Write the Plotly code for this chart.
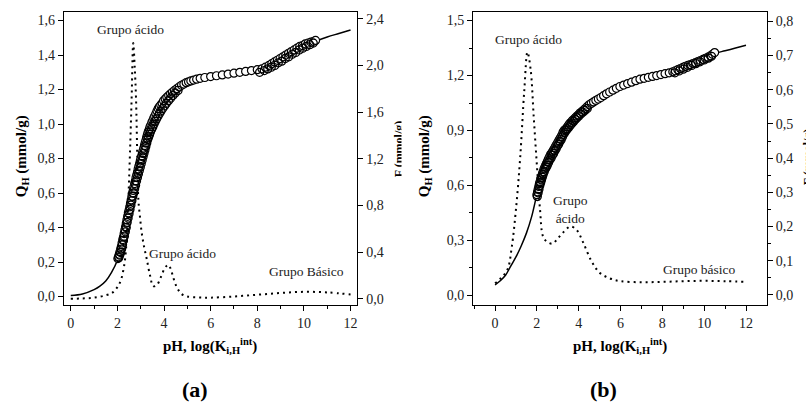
import plotly.graph_objects as go

# ---------------- Panel (a) ----------------
# experimental proton binding Q_H (mmol/g) vs pH, first titration run
ph_exp_a = [2.02, 2.05, 2.08, 2.11, 2.14, 2.17, 2.20, 2.23, 2.26, 2.29, 2.32, 2.35, 2.38, 2.41, 2.44,
            2.47, 2.50, 2.53, 2.56, 2.59, 2.62, 2.65, 2.68, 2.71, 2.74, 2.77, 2.80, 2.83, 2.86, 2.89,
            2.92, 2.95, 2.98, 3.01, 3.04, 3.07, 3.10, 3.13, 3.16, 3.19, 3.22, 3.25, 3.28, 3.31, 3.34,
            3.37, 3.40, 3.44, 3.48, 3.52, 3.56, 3.60, 3.65, 3.70, 3.75, 3.80, 3.86, 3.92, 3.98, 4.05,
            4.12, 4.20, 4.28, 4.36, 4.45, 4.55, 4.65, 4.75, 4.85, 4.95, 5.05, 5.15, 5.27, 5.40, 5.55,
            5.75, 6.00, 6.25, 6.50, 6.75, 7.00, 7.25, 7.50, 7.75, 8.00, 8.20, 8.35, 8.50, 8.62, 8.74,
            8.86, 8.98, 9.10, 9.22, 9.34, 9.46, 9.58, 9.70, 9.82, 9.94, 10.06, 10.18, 10.30, 10.42, 10.50]
q_exp_a = [0.22, 0.23, 0.245, 0.26, 0.275, 0.29, 0.31, 0.33, 0.345, 0.365, 0.385, 0.405, 0.425, 0.445, 0.465,
           0.485, 0.50, 0.52, 0.54, 0.56, 0.58, 0.60, 0.615, 0.635, 0.655, 0.67, 0.69, 0.705, 0.72, 0.74,
           0.755, 0.77, 0.785, 0.80, 0.815, 0.83, 0.845, 0.86, 0.875, 0.89, 0.905, 0.92, 0.935, 0.95, 0.96,
           0.97, 0.985, 0.995, 1.01, 1.02, 1.035, 1.045, 1.06, 1.075, 1.09, 1.10, 1.11, 1.12, 1.135, 1.145,
           1.155, 1.165, 1.175, 1.185, 1.195, 1.205, 1.215, 1.225, 1.232, 1.24, 1.245, 1.25, 1.255, 1.26, 1.265,
           1.27, 1.275, 1.28, 1.285, 1.29, 1.295, 1.30, 1.305, 1.31, 1.315, 1.32, 1.33, 1.34, 1.35, 1.36,
           1.37, 1.38, 1.39, 1.40, 1.41, 1.42, 1.43, 1.44, 1.45, 1.455, 1.465, 1.47, 1.475, 1.48, 1.485]

# second titration run
ph_run2_a = [2.06, 2.10, 2.14, 2.18, 2.22, 2.26, 2.30, 2.34, 2.38, 2.42, 2.46, 2.50, 2.54, 2.58, 2.62,
             2.66, 2.70, 2.74, 2.78, 2.82, 2.86, 2.90, 2.94, 2.98, 3.02, 3.06, 3.10, 3.14, 3.18, 3.22,
             3.26, 3.30, 3.34, 3.38, 3.42, 3.47, 3.52, 3.57, 3.62, 3.68, 3.74, 3.80, 3.87, 3.94, 4.02,
             4.10, 4.19, 4.28, 4.38, 4.48, 4.60,
             8.10, 8.30, 8.45, 8.60, 8.75, 8.90, 9.05, 9.20, 9.35, 9.50, 9.65, 9.80, 9.95, 10.10, 10.25, 10.40]
q_run2_a = [0.225, 0.24, 0.255, 0.275, 0.30, 0.325, 0.35, 0.375, 0.40, 0.43, 0.455, 0.48, 0.505, 0.53, 0.555,
            0.58, 0.60, 0.625, 0.645, 0.67, 0.69, 0.71, 0.73, 0.75, 0.77, 0.79, 0.81, 0.83, 0.85, 0.87,
            0.89, 0.91, 0.925, 0.94, 0.955, 0.97, 0.985, 1.00, 1.015, 1.03, 1.045, 1.06, 1.075, 1.09, 1.105,
            1.12, 1.135, 1.15, 1.165, 1.18, 1.195,
            1.30, 1.31, 1.32, 1.33, 1.34, 1.355, 1.365, 1.38, 1.39, 1.405, 1.415, 1.43, 1.44, 1.45, 1.46, 1.47]

# fitted model curve
ph_fit_a = [0.0, 0.5, 1.0, 1.25, 1.5, 1.75, 2.0, 2.25, 2.5, 2.75, 3.0, 3.25, 3.5, 3.75, 4.0, 4.5,
            5.0, 5.5, 6.0, 7.0, 8.0, 8.5, 9.0, 9.5, 10.0, 10.5, 11.0, 11.5, 12.0]
q_fit_a = [0.006, 0.015, 0.04, 0.06, 0.09, 0.14, 0.21, 0.34, 0.50, 0.655, 0.80, 0.92, 1.015, 1.085, 1.14, 1.20,
           1.242, 1.262, 1.275, 1.295, 1.315, 1.34, 1.38, 1.42, 1.45, 1.48, 1.505, 1.525, 1.545]

# affinity distribution F (right axis)
ph_dist_a = [0.0, 0.5, 1.0, 1.5, 1.8, 2.0, 2.15, 2.25, 2.33, 2.4, 2.47, 2.54, 2.61, 2.68, 2.74, 2.8,
             2.85, 2.9, 2.97, 3.04, 3.15, 3.26, 3.4, 3.54, 3.7, 3.85, 4.0, 4.1, 4.18, 4.28, 4.4, 4.55,
             4.76, 5.0, 5.5, 6.0, 7.0, 8.0, 9.0, 10.0, 11.0, 12.0]
f_dist_a = [0.0, 0.003, 0.01, 0.03, 0.055, 0.1, 0.16, 0.24, 0.34, 0.52, 0.85, 1.25, 1.71, 2.19, 2.0, 1.71,
            1.25, 0.85, 0.7, 0.57, 0.44, 0.34, 0.2, 0.108, 0.12, 0.18, 0.25, 0.28, 0.29, 0.26, 0.18, 0.1,
            0.04, 0.02, 0.012, 0.01, 0.02, 0.035, 0.05, 0.06, 0.055, 0.037]

# ---------------- Panel (b) ----------------
ph_exp_b = [2.00, 2.03, 2.06, 2.09, 2.12, 2.15, 2.18, 2.21, 2.24, 2.27, 2.30, 2.34, 2.38, 2.42, 2.46,
            2.50, 2.54, 2.58, 2.62, 2.66, 2.70, 2.75, 2.80, 2.85, 2.90, 2.95, 3.00, 3.05, 3.10, 3.15,
            3.20, 3.25, 3.30, 3.35, 3.40, 3.46, 3.52, 3.58, 3.64, 3.70, 3.77, 3.84, 3.91, 3.98, 4.06,
            4.14, 4.22, 4.31, 4.40, 4.50, 4.60, 4.71, 4.82, 4.94, 5.06, 5.19, 5.33, 5.48, 5.64, 5.80,
            5.97, 6.15, 6.34, 6.53, 6.73, 6.93, 7.13, 7.33, 7.53, 7.73, 7.93, 8.13, 8.33, 8.50, 8.62,
            8.74, 8.86, 8.98, 9.10, 9.22, 9.34, 9.46, 9.58, 9.70, 9.82, 9.94, 10.06, 10.18, 10.30, 10.40, 10.50]
q_exp_b = [0.55, 0.565, 0.58, 0.595, 0.61, 0.62, 0.635, 0.645, 0.655, 0.665, 0.675, 0.69, 0.70, 0.71, 0.72,
           0.73, 0.74, 0.75, 0.76, 0.77, 0.775, 0.785, 0.795, 0.805, 0.815, 0.825, 0.835, 0.845, 0.855, 0.865,
           0.875, 0.89, 0.90, 0.905, 0.91, 0.92, 0.93, 0.94, 0.945, 0.955, 0.962, 0.97, 0.978, 0.985, 0.995,
           1.002, 1.01, 1.02, 1.03, 1.04, 1.048, 1.056, 1.064, 1.072, 1.08, 1.09, 1.10, 1.11, 1.12, 1.13,
           1.14, 1.148, 1.156, 1.164, 1.172, 1.18, 1.185, 1.19, 1.195, 1.20, 1.205, 1.21, 1.215, 1.22, 1.226,
           1.232, 1.238, 1.244, 1.25, 1.255, 1.26, 1.265, 1.27, 1.276, 1.282, 1.288, 1.294, 1.30, 1.308, 1.316, 1.325]

ph_run2_b = [2.02, 2.06, 2.10, 2.14, 2.18, 2.22, 2.26, 2.30, 2.35, 2.40, 2.45, 2.50, 2.56, 2.62, 2.68,
             2.74, 2.80, 2.86, 2.92, 2.98, 3.04, 3.10, 3.16, 3.22, 3.28, 3.34, 3.40, 3.47, 3.54, 3.61,
             3.68, 3.76, 3.84, 3.92, 4.01, 4.10, 4.20, 4.30, 4.41,
             8.6, 8.8, 9.0, 9.2, 9.4, 9.6, 9.8, 10.0, 10.2, 10.35]
q_run2_b = [0.54, 0.56, 0.58, 0.60, 0.615, 0.63, 0.645, 0.66, 0.675, 0.69, 0.70, 0.71, 0.725, 0.74, 0.75,
            0.765, 0.775, 0.79, 0.80, 0.815, 0.825, 0.84, 0.85, 0.865, 0.88, 0.89, 0.90, 0.91, 0.92, 0.93,
            0.94, 0.95, 0.96, 0.97, 0.98, 0.99, 1.0, 1.01, 1.02,
            1.215, 1.225, 1.235, 1.245, 1.255, 1.265, 1.275, 1.285, 1.295, 1.305]

ph_fit_b = [0.0, 0.25, 0.5, 0.75, 1.0, 1.25, 1.5, 1.75, 2.0, 2.25, 2.5, 3.0, 3.5, 4.0, 5.0, 6.0,
            7.0, 8.0, 9.0, 10.0, 10.5, 11.0, 11.5, 12.0]
q_fit_b = [0.057, 0.08, 0.11, 0.16, 0.21, 0.27, 0.34, 0.43, 0.55, 0.655, 0.73, 0.835, 0.925, 0.99, 1.076, 1.14,
           1.18, 1.207, 1.245, 1.29, 1.32, 1.335, 1.35, 1.365]

ph_dist_b = [0.0, 0.3, 0.6, 0.8, 1.0, 1.2, 1.4, 1.55, 1.7, 1.85, 2.0, 2.15, 2.3, 2.5, 2.75, 3.0, 3.3,
             3.6, 3.9, 4.2, 4.6, 5.0, 5.5, 6.0, 7.0, 8.0, 9.0, 10.0, 11.0, 12.0]
f_dist_b = [0.034, 0.05, 0.075, 0.14, 0.25, 0.40, 0.6, 0.71, 0.66, 0.52, 0.38, 0.25, 0.17, 0.155, 0.15,
            0.165, 0.185, 0.2, 0.19, 0.155, 0.1, 0.065, 0.048, 0.04, 0.037, 0.038, 0.04, 0.041, 0.04, 0.038]

SERIF = "Liberation Serif"
W, H = 806, 403

fig = go.Figure()

# run 2 as open rings underneath, run 1 as white-filled circles on top
ring_style = dict(symbol="circle-open", size=8, color="black", line=dict(width=1.3))
marker_style = dict(symbol="circle", size=8, color="white", line=dict(color="black", width=1.2))
fit_style = dict(color="black", width=1.5)
dist_style = dict(color="black", width=2, dash="2px,4px")

# panel (a)
fig.add_trace(go.Scatter(x=ph_fit_a, y=q_fit_a, mode="lines", line=fit_style, line_shape="spline",
                         xaxis="x", yaxis="y", showlegend=False))
fig.add_trace(go.Scatter(x=ph_exp_a, y=q_exp_a, mode="markers", marker=marker_style,
                         xaxis="x", yaxis="y", showlegend=False))
fig.add_trace(go.Scatter(x=ph_run2_a, y=q_run2_a, mode="markers", marker=ring_style,
                         xaxis="x", yaxis="y", showlegend=False))
fig.add_trace(go.Scatter(x=ph_dist_a, y=f_dist_a, mode="lines", line=dist_style, line_shape="spline",
                         xaxis="x", yaxis="y2", showlegend=False))

# panel (b)
fig.add_trace(go.Scatter(x=ph_fit_b, y=q_fit_b, mode="lines", line=fit_style, line_shape="spline",
                         xaxis="x2", yaxis="y3", showlegend=False))
fig.add_trace(go.Scatter(x=ph_exp_b, y=q_exp_b, mode="markers", marker=marker_style,
                         xaxis="x2", yaxis="y3", showlegend=False))
fig.add_trace(go.Scatter(x=ph_run2_b, y=q_run2_b, mode="markers", marker=ring_style,
                         xaxis="x2", yaxis="y3", showlegend=False))
fig.add_trace(go.Scatter(x=ph_dist_b, y=f_dist_b, mode="lines", line=dist_style, line_shape="spline",
                         xaxis="x2", yaxis="y4", showlegend=False))

tickfont = dict(family=SERIF, size=14, color="#222")
axis_common = dict(showline=True, linecolor="black", linewidth=1.3, ticks="outside", ticklen=5,
                   tickwidth=1.2, tickcolor="black", showgrid=False, zeroline=False,
                   tickfont=tickfont, tickformat=".1f", fixedrange=True)

y_top = 1 - 12 / H
y_bot = 1 - 306.3 / H

fig.update_layout(
    width=W, height=H,
    margin=dict(l=0, r=0, t=0, b=0),
    paper_bgcolor="white", plot_bgcolor="white",
    separators=",.",
    xaxis=dict(axis_common, domain=[64 / W, 357.3 / W], range=[-0.29, 12.29], dtick=2, tick0=0,
               tickformat="d", mirror=True, anchor="y",
               minor=dict(dtick=1, tick0=0, ticks="outside", ticklen=3, tickcolor="black")),
    yaxis=dict(axis_common, domain=[y_bot, y_top], range=[-0.048, 1.65], dtick=0.2, tick0=0, anchor="x"),
    yaxis2=dict(axis_common, range=[-0.051, 2.457], dtick=0.4, tick0=0, overlaying="y", side="right",
                anchor="x"),
    xaxis2=dict(axis_common, domain=[473.3 / W, 766.7 / W], range=[-1.04, 12.99], dtick=2, tick0=0,
                tickformat="d", mirror=True, anchor="y3",
                minor=dict(dtick=1, tick0=0, ticks="outside", ticklen=3, tickcolor="black")),
    yaxis3=dict(axis_common, domain=[y_bot, y_top], range=[-0.051, 1.547], dtick=0.3, tick0=0,
                anchor="x2",
                minor=dict(dtick=0.15, tick0=0, ticks="outside", ticklen=3, tickcolor="black")),
    yaxis4=dict(axis_common, range=[-0.029, 0.8276], dtick=0.1, tick0=0, overlaying="y3",
                side="right", anchor="x2",
                minor=dict(dtick=0.05, tick0=0, ticks="outside", ticklen=3, tickcolor="black")),
)

note_font = dict(family=SERIF, size=13.5, color="#222")
title_font = dict(family=SERIF, size=15, color="black")

annotations = [
    # curve labels, panel (a)
    dict(text="Grupo ácido", x=2.58, y=1.547, xref="x", yref="y", showarrow=False, font=note_font),
    dict(text="Grupo ácido", x=4.79, y=0.247, xref="x", yref="y", showarrow=False, font=note_font),
    dict(text="Grupo Básico", x=10.09, y=0.144, xref="x", yref="y", showarrow=False, font=note_font),
    # curve labels, panel (b)
    dict(text="Grupo ácido", x=1.58, y=1.395, xref="x2", yref="y3", showarrow=False, font=note_font),
    dict(text="Grupo<br>ácido", x=3.63, y=0.47, xref="x2", yref="y3", showarrow=False, font=note_font),
    dict(text="Grupo básico", x=9.8, y=0.139, xref="x2", yref="y3", showarrow=False, font=note_font),
]


def paper_note(px, py, **kw):
    """Annotation centred on pixel position (px, py) of the figure."""
    return dict(x=px / W, y=1 - py / H, xref="paper", yref="paper", xanchor="center",
                yanchor="middle", showarrow=False, **kw)


for cx in (22, 425):
    annotations.append(paper_note(cx, 157, text="<b>Q<sub>H</sub> (mmol/g)</b>", textangle=-90,
                                  font=title_font))
for cx in (210, 620):
    annotations.append(paper_note(cx, 348, text="<b>pH, log(K<sub>i,H</sub><sup>int</sup>)</b>",
                                  font=title_font))
for cx, lab in ((195, "(a)"), (603, "(b)")):
    annotations.append(paper_note(cx, 391, text=f"<b>{lab}</b>",
                                  font=dict(family=SERIF, size=22, color="black")))
# right-axis titles (panel edges cut them off)
for cx, cy in ((399, 150), (808, 157)):
    annotations.append(paper_note(cx, cy, text="<b>F (mmol/g)</b>", textangle=-90,
                                  font=dict(family=SERIF, size=12, color="black")))
# blank strip at the right edge of panel (a)
annotations.append(dict(text=" ", x=401 / W, y=1 - 150 / H, xref="paper", yref="paper", xanchor="left",
                        yanchor="middle", width=14, height=90, bgcolor="white", borderpad=0,
                        showarrow=False))

fig.update_layout(annotations=annotations)

fig.write_html("out.html")
